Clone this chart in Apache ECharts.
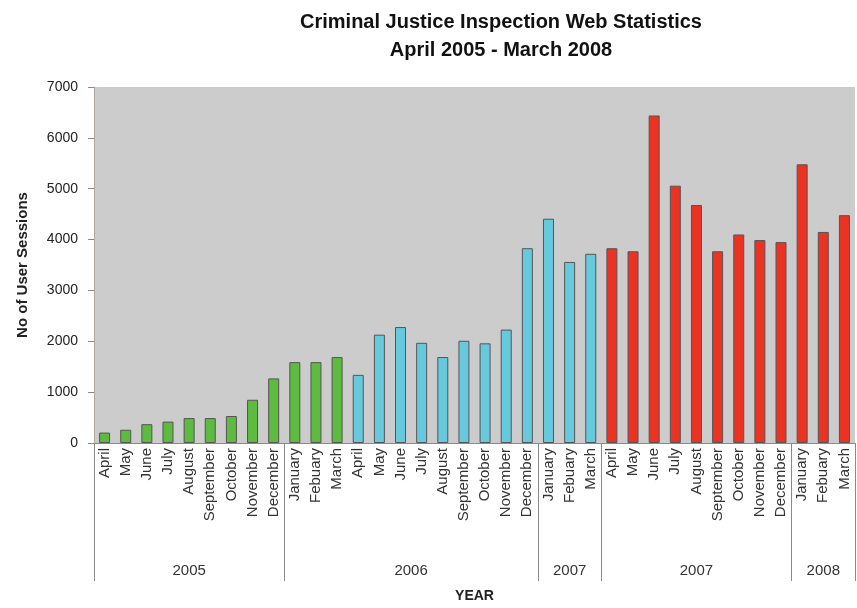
<!DOCTYPE html>
<html lang="en">
<head>
    <meta charset="UTF-8">
    <title>Criminal Justice Inspection Web Statistics</title>
    <style type="text/css">
        *{
            margin: 0;
            padding: 0;
        }
        #main{
            width: 857px;
            height: 608px;
            position: absolute;
        }
    </style>
</head>
<body>
    <div id="main"></div>
    <script src="https://cdn.jsdelivr.net/npm/echarts@6/dist/echarts.min.js"></script>
    <script type="text/javascript">
        // months, April 2005 - March 2008
        var months = ['April', 'May', 'June', 'July', 'August', 'September', 'October', 'November', 'December', 'January', 'Febuary', 'March',
                      'April', 'May', 'June', 'July', 'August', 'September', 'October', 'November', 'December', 'January', 'Febuary', 'March',
                      'April', 'May', 'June', 'July', 'August', 'September', 'October', 'November', 'December', 'January', 'Febuary', 'March'];
        var sessions = [205, 260, 370, 420, 490, 490, 530, 850, 1270, 1590, 1590, 1690,
                        1340, 2130, 2280, 1970, 1690, 2010, 1960, 2230, 3830, 4410, 3560, 3720,
                        3830, 3770, 6440, 5060, 4680, 3770, 4100, 3990, 3950, 5480, 4150, 4480];
        // year groups under the month labels
        var groupYears = ['2005', '2006', '2007', '2007', '2008'];
        var groupSizes = [9, 12, 3, 9, 3];
        // one colour per twelve-month period
        var periodColors = ['#5dbb3f', '#66c9dd', '#ea3323'];

        var groupEdges = [0];
        var groupMids = [];
        for (var i = 0; i < groupSizes.length; i++) {
            var start = groupEdges[groupEdges.length - 1];
            groupMids.push(start + groupSizes[i] / 2);
            groupEdges.push(start + groupSizes[i]);
        }

        var myChart = echarts.init(document.getElementById('main'));
        var font = 'Liberation Sans, Arial, sans-serif';

        var option = {
            animation: false,
            textStyle: { fontFamily: font },
            title: {
                text: 'Criminal Justice Inspection Web Statistics\nApril 2005 - March 2008',
                left: 496,
                textAlign: 'center',
                top: 3,
                textStyle: {
                    fontSize: 20,
                    fontWeight: 'bold',
                    color: '#111',
                    lineHeight: 28,
                    fontFamily: font
                }
            },
            grid: {
                left: 94,
                right: 2,
                top: 87,
                bottom: 161,
                show: true,
                backgroundColor: '#cccccc',
                borderWidth: 0
            },
            xAxis: [{
                type: 'category',
                data: months,
                axisLine: { lineStyle: { color: '#8a8a8a' } },
                axisTick: {
                    interval: 0,
                    length: 101,
                    lineStyle: { color: '#9a8f8c' }
                },
                axisLabel: {
                    interval: 0,
                    rotate: 90,
                    margin: 5,
                    fontSize: 15,
                    color: '#333',
                    fontFamily: font
                }
            }, {
                type: 'value',
                min: 0,
                max: 36,
                position: 'bottom',
                name: 'YEAR',
                nameLocation: 'middle',
                nameGap: 146,
                nameTextStyle: {
                    fontWeight: 'bold',
                    fontSize: 14,
                    color: '#222',
                    fontFamily: font
                },
                axisLine: { show: false },
                splitLine: { show: false },
                axisTick: {
                    show: true,
                    customValues: groupEdges,
                    length: 138,
                    lineStyle: { color: '#8a8a8a' }
                },
                axisLabel: {
                    customValues: groupMids,
                    margin: 120,
                    fontSize: 15,
                    color: '#333',
                    fontFamily: font,
                    formatter: function (v) {
                        var k = groupMids.indexOf(v);
                        return k >= 0 ? groupYears[k] : '';
                    }
                }
            }],
            yAxis: {
                type: 'value',
                min: 0,
                max: 7000,
                interval: 1000,
                name: 'No of User Sessions',
                nameLocation: 'middle',
                nameGap: 64,
                nameTextStyle: {
                    fontWeight: 'bold',
                    fontSize: 15,
                    color: '#222',
                    fontFamily: font
                },
                axisLine: { show: true, lineStyle: { color: '#b5a6a2' } },
                axisTick: { show: true, length: 6, lineStyle: { color: '#8a8a8a' } },
                splitLine: { show: false },
                axisLabel: {
                    margin: 16,
                    fontSize: 14,
                    color: '#222',
                    fontFamily: font,
                    formatter: function (v) { return String(v); }
                }
            },
            series: [{
                type: 'bar',
                xAxisIndex: 0,
                data: sessions,
                barWidth: 11,
                itemStyle: {
                    borderColor: '#555',
                    borderWidth: 1,
                    color: function (p) {
                        return periodColors[Math.floor(p.dataIndex / 12)];
                    }
                }
            }]
        };

        myChart.setOption(option);
    </script>
</body>
</html>
